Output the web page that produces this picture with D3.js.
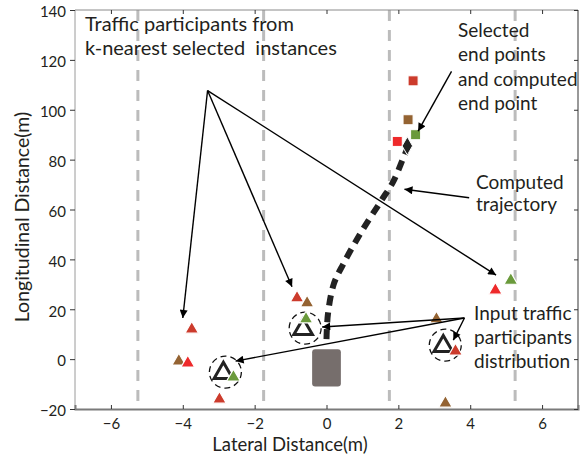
<!DOCTYPE html>
<html><head><meta charset="utf-8">
<script src="https://cdn.jsdelivr.net/npm/d3@7"></script>
<style>body{margin:0;background:#fff}svg{display:block}text{font-family:Lato,"Noto Sans",sans-serif;fill:#231f20;white-space:pre}</style>
</head><body><svg id="c" width="588" height="457"></svg>
<script>
const xTicks = [-6,-4,-2,0,2,4,6];
const yTicks = [-20,0,20,40,60,80,100,120,140];
const laneX = [-5.25,-1.75,1.75,5.25];
// traffic participants (triangles)
const partX = [-0.82,-0.54,-0.57,-3.75,-4.11,-3.86,-2.59,-2.98,4.70,5.13,3.06,3.59,3.31];
const partY = [24.9,22.9,16.5,12.4,-0.4,-1.2,-6.8,-15.7,28.0,32.0,16.5,3.6,-17.3];
const partKind = ["darkred","brown","green","darkred","brown","red","green","darkred","red","green","brown","darkred","brown"];
// input participants
const inputX = [-0.65,-2.87,3.25];
const inputY = [12.4,-5.2,5.6];
// selected end points and computed end point
const endX = [2.41,2.27,2.48,1.97];
const endY = [111.6,96.0,90.0,87.3];
const endKind = ["darkred","brown","green","red"];
const compEnd = [2.25,85.5];
// computed trajectory
const trajX = [0.0,0.04,0.2,0.48,0.97,1.54,1.85,2.12,2.25];
const trajY = [8,18,30,38.5,51,63.9,71,80,84.5];
// ego vehicle
const egoX = [-0.4,0.4];
const egoY = [-11,4];

const colors = {darkred:"#cc3b2c",red:"#ee2a2b",brown:"#946332",green:"#6a9a3b"};

const svg = d3.select("#c");
const x = d3.scaleLinear().domain([-7,7]).range([75,578]);
const y = d3.scaleLinear().domain([-20,140]).range([409,10]);

svg.append("defs").append("marker").attr("id","ah").attr("viewBox","0 0 10 10")
  .attr("refX",10).attr("refY",5).attr("markerWidth",11).attr("markerHeight",8)
  .attr("markerUnits","userSpaceOnUse").attr("orient","auto")
  .append("path").attr("d","M0,0L10,5L0,10z").attr("fill","#000");

// lanes
svg.selectAll(".lane").data(laneX).join("line")
  .attr("x1",d=>x(d)).attr("x2",d=>x(d)).attr("y1",y(140)).attr("y2",y(-20))
  .attr("stroke","#bcbcbc").attr("stroke-width",3).attr("stroke-dasharray","11,9");

// frame
svg.append("line").attr("x1",75).attr("x2",578).attr("y1",10).attr("y2",10).attr("stroke","#8a8a8a").attr("stroke-width",1);
svg.append("line").attr("x1",75).attr("x2",75).attr("y1",10).attr("y2",409).attr("stroke","#9a9a9a").attr("stroke-width",1);
svg.append("line").attr("x1",578).attr("x2",578).attr("y1",10).attr("y2",409).attr("stroke","#555").attr("stroke-width",1.2);

// axes
const ax = svg.append("g").attr("transform","translate(0,409)")
  .call(d3.axisBottom(x).tickValues(xTicks).tickSize(-4).tickPadding(9).tickFormat(d=>d<0?"\u2212"+(-d):d));
ax.select(".domain").attr("stroke","#7a7a7a").attr("stroke-width",2);
ax.selectAll(".tick line").attr("stroke","#333");
ax.selectAll("text").attr("font-size",15).attr("font-family","Lato,sans-serif").attr("fill","#231f20");
const axTop = svg.append("g").attr("transform","translate(0,10)")
  .call(d3.axisTop(x).tickValues(xTicks).tickSize(-4).tickFormat(""));
axTop.select(".domain").remove();
axTop.selectAll(".tick line").attr("stroke","#333");
const ay = svg.append("g").attr("transform","translate(75,0)")
  .call(d3.axisLeft(y).tickValues(yTicks).tickSize(5).tickPadding(4).tickFormat(d=>d<0?"\u2212"+(-d):d));
ay.select(".domain").remove();
ay.selectAll(".tick line").attr("stroke","#333");
ay.selectAll("text").attr("font-size",15).attr("font-family","Lato,sans-serif").attr("fill","#231f20").attr("dy","0.45em");
const ayR = svg.append("g").attr("transform","translate(578,0)")
  .call(d3.axisRight(y).tickValues(yTicks).tickSize(-4).tickFormat(""));
ayR.select(".domain").remove();
ayR.selectAll(".tick line").attr("stroke","#333");

// ego vehicle
svg.append("rect").attr("x",x(egoX[0])).attr("y",y(egoY[1]))
  .attr("width",x(egoX[1])-x(egoX[0])).attr("height",y(egoY[0])-y(egoY[1]))
  .attr("rx",3).attr("fill","#766e6c");

// trajectory
svg.append("path").datum(trajX.map((d,i)=>[d,trajY[i]]))
  .attr("d",d3.line().x(d=>x(d[0])).y(d=>y(d[1])).curve(d3.curveCatmullRom))
  .attr("fill","none").attr("stroke","#222").attr("stroke-width",6).attr("stroke-dasharray","10,7");

const tri = d3.symbol().type(d3.symbolTriangle);
// input participants (open triangles) and dashed circles
svg.selectAll(".ring").data(inputX).join("circle")
  .attr("cx",(d,i)=>x(d)+2).attr("cy",(d,i)=>y(inputY[i])).attr("r",16)
  .attr("fill","none").attr("stroke","#111").attr("stroke-width",1.3).attr("stroke-dasharray","6,4");
svg.selectAll(".inp").data(inputX).join("path")
  .attr("transform",(d,i)=>`translate(${x(d)},${y(inputY[i])+1})`)
  .attr("d",tri.size(150)()).attr("fill","none").attr("stroke","#222").attr("stroke-width",3);

// participants
svg.selectAll(".part").data(partX).join("path")
  .attr("transform",(d,i)=>`translate(${x(d)},${y(partY[i])+1})`)
  .attr("d",tri.size(80)()).attr("fill",(d,i)=>colors[partKind[i]])
  .attr("stroke","#fff").attr("stroke-width",1.2);

// end points
svg.selectAll(".endp").data(endX).join("rect")
  .attr("x",d=>x(d)-5).attr("y",(d,i)=>y(endY[i])-5).attr("width",10).attr("height",10)
  .attr("fill",(d,i)=>colors[endKind[i]]).attr("stroke","#fff").attr("stroke-width",1);
svg.append("path").attr("transform",`translate(${x(compEnd[0])},${y(compEnd[1])})`)
  .attr("d",d3.symbol().type(d3.symbolDiamond).size(95)()).attr("fill","#222").attr("stroke","#fff").attr("stroke-width",1);

// arrows
const arrows = [
  [-3.31,107.7,-4.0,16.5],[-3.31,107.7,-0.96,29],[-3.31,107.7,4.72,33.7],
  [3.48,115.4,2.55,91.4],[3.97,64.7,2.17,68.1],
  [3.84,16.5,-0.12,12.9],[3.84,16.5,-2.53,-0.8],[3.84,16.5,3.53,7.6]
];
svg.selectAll(".arr").data(arrows).join("line")
  .attr("x1",d=>x(d[0])).attr("y1",d=>y(d[1])).attr("x2",d=>x(d[2])).attr("y2",d=>y(d[3]))
  .attr("stroke","#000").attr("stroke-width",1.4).attr("marker-end","url(#ah)");

// annotation text
function lines(xp,yp,arr,gap,fs){arr.forEach((t,i)=>svg.append("text").attr("x",xp).attr("y",yp+i*gap).attr("font-size",fs).text(t));}
lines(85,31,["Traffic participants from","k-nearest selected  instances"],23.5,20);
lines(458,37,["Selected","end points","and computed","end point"],24.3,19);
lines(476,189,["Computed","trajectory"],22,19);
lines(474,320,["Input traffic","participants","distribution"],24,19);

svg.append("text").attr("x",290).attr("y",451).attr("text-anchor","middle").attr("font-size",18.5).text("Lateral Distance(m)");
svg.append("text").attr("transform","translate(29,217) rotate(-90)").attr("text-anchor","middle").attr("font-size",19.5).text("Longitudinal Distance(m)");
</script></body></html>
